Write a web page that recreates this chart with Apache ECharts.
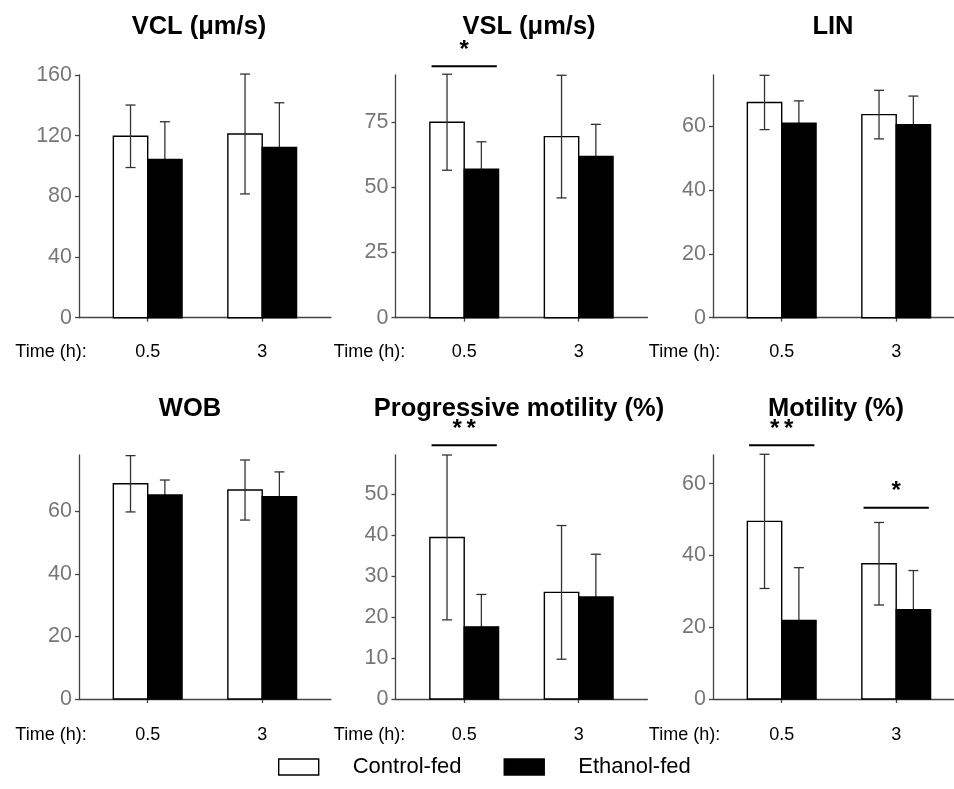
<!DOCTYPE html>
<html>
<head>
<meta charset="utf-8">
<script src="https://cdn.jsdelivr.net/npm/echarts@6/dist/echarts.min.js"></script>
<style>html,body{margin:0;padding:0;background:#fff;}#c{width:954px;height:789px;}</style>
</head>
<body>
<div id="c"></div>
<script>
// ---- data ----
const categories = ['0.5', '3'];
const panelTitles = ['VCL (\u03bcm/s)', 'VSL (\u03bcm/s)', 'LIN', 'WOB', 'Progressive motility (%)', 'Motility (%)'];
const groupNames = ['Control-fed', 'Ethanol-fed'];
const xLabelPrefix = 'Time (h):';

const yMax = [160, 93, 76, 78, 59.5, 68];
const yTicks0 = [0, 40, 80, 120, 160];
const yTicks1 = [0, 25, 50, 75];
const yTicks2 = [0, 20, 40, 60];
const yTicks3 = [0, 20, 40, 60];
const yTicks4 = [0, 10, 20, 30, 40, 50];
const yTicks5 = [0, 20, 40, 60];

const vclControl = [119.6, 121.1];
const vclControlErr = [20.6, 39.5];
const vclEthanol = [104.4, 112.3];
const vclEthanolErr = [24.8, 29.4];

const vslControl = [74.9, 69.4];
const vslControlErr = [18.4, 23.5];
const vslEthanol = [56.9, 61.8];
const vslEthanolErr = [10.5, 12.3];

const linControl = [67.4, 63.6];
const linControlErr = [8.5, 7.6];
const linEthanol = [60.9, 60.4];
const linEthanolErr = [7.0, 9.0];

const wobControl = [68.8, 66.8];
const wobControlErr = [9.0, 9.6];
const wobEthanol = [65.2, 64.7];
const wobEthanolErr = [4.8, 7.9];

const progControl = [39.4, 26.0];
const progControlErr = [20.1, 16.3];
const progEthanol = [17.6, 24.9];
const progEthanolErr = [7.9, 10.4];

const motControl = [49.5, 37.7];
const motControlErr = [18.7, 11.5];
const motEthanol = [21.9, 24.9];
const motEthanolErr = [14.7, 10.9];

// significance brackets: panel index, category index, label, bracket height (data units)
const sigPanel = [1, 4, 5, 5];
const sigCategory = [0, 0, 0, 1];
const sigLabel = ['*', '**', '**', '*'];
const sigHeight = [96.4, 61.9, 70.7, 53.3];

// ---- build ----
const yTicks = [yTicks0, yTicks1, yTicks2, yTicks3, yTicks4, yTicks5];
const controlMeans = [vclControl, vslControl, linControl, wobControl, progControl, motControl];
const controlErrs = [vclControlErr, vslControlErr, linControlErr, wobControlErr, progControlErr, motControlErr];
const ethanolMeans = [vclEthanol, vslEthanol, linEthanol, wobEthanol, progEthanol, motEthanol];
const ethanolErrs = [vclEthanolErr, vslEthanolErr, linEthanolErr, wobEthanolErr, progEthanolErr, motEthanolErr];

const FONT = '"Liberation Sans", Arial, Helvetica, sans-serif';
const UNIT = 114.5; // px per category step
const colLeft = [79, 395.5, 713];
const xMin = -0.6;
const colXMax = [1.6, 1.6, 1.5];
const rowTop = [75, 455];
const rowHeight = [242.7, 244];
const titleX = [[199, 529, 833], [190, 519, 836]];
const titleY = [14, 396];
const timeX = [51, 369.5, 684.5];
const timeY = [352.5, 735.5];
const AXIS_COLOR = '#444';
const BAR_HALF = 0.15;

const grids = [], xAxes = [], yAxes = [], series = [], titles = [], graphics = [];

for (let p = 0; p < 6; p++) {
  const r = Math.floor(p / 3), c = p % 3;
  grids.push({ left: colLeft[c], top: rowTop[r], width: (colXMax[c] - xMin) * UNIT, height: rowHeight[r], containLabel: false });
  xAxes.push({
    gridIndex: p, type: 'value', min: xMin, max: colXMax[c],
    axisLine: { show: true, onZero: false, lineStyle: { color: AXIS_COLOR, width: 1.3 } },
    axisTick: { show: true, length: 4, customValues: [0, 1], lineStyle: { color: AXIS_COLOR, width: 1.3 } },
    axisLabel: {
      show: true, customValues: [0, 1], margin: r === 0 ? 25 : 27,
      formatter: v => categories[Math.round(v)],
      color: '#000', fontSize: 18, fontFamily: FONT
    },
    splitLine: { show: false }
  });
  yAxes.push({
    gridIndex: p, type: 'value', min: 0, max: yMax[p],
    axisLine: { show: true, onZero: false, lineStyle: { color: AXIS_COLOR, width: 1.3 } },
    axisTick: { show: true, length: 4, customValues: yTicks[p], lineStyle: { color: AXIS_COLOR, width: 1.3 } },
    axisLabel: { show: true, customValues: yTicks[p], margin: 7, color: '#777', fontSize: 21.5, fontFamily: FONT },
    splitLine: { show: false }
  });
  titles.push({
    text: panelTitles[p], left: titleX[r][c], top: titleY[r], textAlign: 'center', padding: 0,
    textStyle: { fontSize: 25.5, fontWeight: 'bold', color: '#000', fontFamily: FONT }
  });
  graphics.push({
    type: 'text', x: timeX[c], y: timeY[r],
    style: { text: xLabelPrefix, x: 0, y: 0, fill: '#000', font: '18px ' + FONT, textAlign: 'center', textVerticalAlign: 'middle' }
  });

  [0, 1].forEach(g => {
    const means = g === 0 ? controlMeans[p] : ethanolMeans[p];
    const errs = g === 0 ? controlErrs[p] : ethanolErrs[p];
    const data = categories.map((cat, i) => [i, means[i], errs[i]]);
    series.push({
      type: 'custom', name: groupNames[g], xAxisIndex: p, yAxisIndex: p,
      dimensions: ['x', 'y', 'err'], encode: { x: 0, y: 1 },
      clip: false,
      data: data,
      renderItem: (params, api) => {
        const x = api.value(0), y = api.value(1), e = api.value(2);
        const cx = x + (g === 0 ? -BAR_HALF : BAR_HALF);
        const tl = api.coord([cx - BAR_HALF, y]);
        const br = api.coord([cx + BAR_HALF, 0]);
        const top = api.coord([cx, y + e]);
        const bot = api.coord([cx, y - e]);
        const rect = {
          type: 'rect',
          shape: { x: tl[0], y: tl[1], width: br[0] - tl[0], height: br[1] - tl[1] },
          style: { fill: g === 0 ? '#fff' : '#000', stroke: '#000', lineWidth: 1.4 }
        };
        const eb = { stroke: '#333', lineWidth: 1.3 };
        const err = [
          { type: 'line', shape: { x1: top[0], y1: top[1], x2: bot[0], y2: bot[1] }, style: eb },
          { type: 'line', shape: { x1: top[0] - 5, y1: top[1], x2: top[0] + 5, y2: top[1] }, style: eb },
          { type: 'line', shape: { x1: bot[0] - 5, y1: bot[1], x2: bot[0] + 5, y2: bot[1] }, style: eb }
        ];
        return { type: 'group', children: g === 0 ? [rect].concat(err) : err.concat([rect]) };
      }
    });
  });
}

// significance brackets
sigPanel.forEach((p, k) => {
  series.push({
    type: 'custom', name: 'sig' + k, xAxisIndex: p, yAxisIndex: p, clip: false, silent: true,
    data: [[sigCategory[k], sigHeight[k]]],
    renderItem: (params, api) => {
      const x = api.value(0), h = api.value(1);
      const a = api.coord([x - 0.285, h]);
      const b = api.coord([x + 0.285, h]);
      const txt = sigLabel[k].split('').join('\u2009');
      return {
        type: 'group', children: [
          { type: 'line', shape: { x1: a[0], y1: a[1], x2: b[0], y2: b[1] }, style: { stroke: '#000', lineWidth: 2 } },
          { type: 'text', style: { text: txt, x: (a[0] + b[0]) / 2, y: a[1] - 16, fill: '#000',
              font: 'bold 24px ' + FONT, textAlign: 'center', textVerticalAlign: 'middle' } }
        ]
      };
    }
  });
});

const option = {
  backgroundColor: '#fff',
  animation: false,
  title: titles,
  grid: grids,
  xAxis: xAxes,
  yAxis: yAxes,
  legend: {
    left: 278, top: 756, padding: 0, itemWidth: 40, itemHeight: 16, itemGap: 42,
    data: [
      { name: groupNames[0], icon: 'rect', itemStyle: { color: '#fff', borderColor: '#000', borderWidth: 1.4 } },
      { name: groupNames[1], icon: 'rect', itemStyle: { color: '#000', borderColor: '#000', borderWidth: 1.4 } }
    ],
    formatter: name => '{g|}' + name,
    textStyle: { fontSize: 22, color: '#000', fontFamily: FONT, rich: { g: { width: 29 } } }
  },
  graphic: graphics,
  series: series
};

const chart = echarts.init(document.getElementById('c'), null, { renderer: 'canvas' });
chart.setOption(option);
</script>
</body>
</html>
